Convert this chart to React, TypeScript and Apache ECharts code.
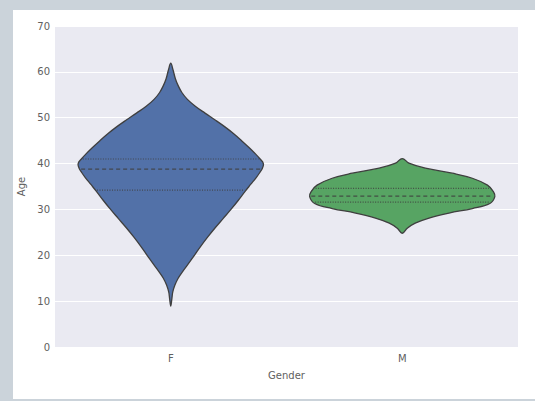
import React, { useEffect, useRef } from "react";
import * as echarts from "echarts";

const categories = ["F", "M"];
const yMin = 0;
const yMax = 70;
const yStep = 10;

// Violin outlines: age (top to bottom) and relative half-width (0..1)
const femaleAges = [61.9, 60.4, 58.5, 57.0, 55.5, 54.0, 52.5, 51.0, 49.5, 48.0, 46.5, 45.0, 43.5, 42.0, 41.0, 40.0, 39.0, 38.0, 37.0, 35.5, 34.0, 32.0, 30.0, 28.0, 26.0, 24.0, 22.0, 20.0, 18.0, 16.5, 15.0, 13.5, 12.0, 10.5, 8.9];
const femaleWidths = [0, 0.025, 0.05, 0.08, 0.12, 0.18, 0.265, 0.37, 0.48, 0.585, 0.68, 0.765, 0.845, 0.92, 0.965, 1.0, 0.99, 0.96, 0.925, 0.865, 0.805, 0.73, 0.65, 0.565, 0.48, 0.4, 0.325, 0.255, 0.185, 0.13, 0.08, 0.045, 0.022, 0.012, 0];
const maleAges = [41.1, 40.1, 39.0, 37.9, 36.8, 35.3, 33.9, 32.8, 31.3, 30.2, 29.2, 28.1, 27.0, 25.9, 24.8];
const maleWidths = [0, 0.072, 0.25, 0.54, 0.757, 0.92, 0.984, 1.0, 0.946, 0.757, 0.505, 0.289, 0.14, 0.054, 0];

// [Q1, median, Q3]
const femaleQuartiles = [34.2, 38.8, 41.0];
const maleQuartiles = [31.6, 32.9, 34.6];

const violinColors = ["#5271a8", "#57a463"];

function halfWidthAt(ages: number[], widths: number[], v: number): number {
  for (let k = 0; k < ages.length - 1; k++) {
    const a0 = ages[k];
    const a1 = ages[k + 1];
    if (v <= a0 && v >= a1) {
      const t = (a0 - v) / (a0 - a1);
      return widths[k] + t * (widths[k + 1] - widths[k]);
    }
  }
  return 0;
}

export default function App() {
  const ref = useRef<HTMLDivElement>(null);

  useEffect(() => {
    if (!ref.current) return;
    const chart = echarts.init(ref.current, null, { renderer: "svg" });
    const profiles = [
      { ages: femaleAges, widths: femaleWidths, q: femaleQuartiles },
      { ages: maleAges, widths: maleWidths, q: maleQuartiles },
    ];
    const textColor = "#606060";
    const font = "DejaVu Sans";

    chart.setOption({
      animation: false,
      grid: {
        left: 55,
        right: 17,
        top: 26,
        bottom: 54,
        show: true,
        backgroundColor: "#eaeaf2",
        borderWidth: 0,
      },
      xAxis: {
        type: "category",
        data: categories,
        axisLine: { show: false },
        axisTick: { show: false },
        axisLabel: { color: textColor, fontSize: 10, fontFamily: font, margin: 6 },
        splitLine: { show: false },
        name: "Gender",
        nameLocation: "middle",
        nameGap: 23,
        nameTextStyle: { color: textColor, fontSize: 10, fontFamily: font },
      },
      yAxis: {
        type: "value",
        min: yMin,
        max: yMax,
        interval: yStep,
        axisLine: { show: false },
        axisTick: { show: false },
        axisLabel: { color: textColor, fontSize: 10, fontFamily: font, margin: 5 },
        splitLine: { show: true, lineStyle: { color: "#ffffff", width: 1 } },
        name: "Age",
        nameLocation: "middle",
        nameGap: 25,
        nameTextStyle: { color: textColor, fontSize: 10, fontFamily: font },
      },
      series: [
        {
          type: "custom",
          data: categories.map((_, i) => [i, profiles[i].q[1]]),
          renderItem: (params: any, api: any) => {
            const i = params.dataIndex;
            const p = profiles[i];
            const band = api.size([1, 0])[0];
            const maxHalf = band * 0.4;
            const cx = api.coord([i, 0])[0];
            const pts: number[][] = [];
            for (let k = 0; k < p.ages.length; k++) {
              const y = api.coord([i, p.ages[k]])[1];
              pts.push([cx + p.widths[k] * maxHalf, y]);
            }
            for (let k = p.ages.length - 2; k >= 1; k--) {
              const y = api.coord([i, p.ages[k]])[1];
              pts.push([cx - p.widths[k] * maxHalf, y]);
            }
            const children: any[] = [
              {
                type: "polygon",
                shape: { points: pts, smooth: 0.4 },
                style: { fill: violinColors[i], stroke: "#3f3f3f", lineWidth: 1.3 },
              },
            ];
            p.q.forEach((qv: number, j: number) => {
              const hw = halfWidthAt(p.ages, p.widths, qv) * maxHalf - 1.5;
              const y = api.coord([i, qv])[1];
              children.push({
                type: "line",
                shape: { x1: cx - hw, y1: y, x2: cx + hw, y2: y },
                style: {
                  stroke: "#3f3f3f",
                  lineWidth: j === 1 ? 1.3 : 1.1,
                  lineDash: j === 1 ? [4, 3] : [1, 1.5],
                  opacity: 0.85,
                },
              });
            });
            return { type: "group", children };
          },
        },
      ],
    });
    return () => chart.dispose();
  }, []);

  return (
    <div style={{ position: "fixed", left: 0, top: 0, width: 535, height: 401, background: "#cbd3da" }}>
      <div style={{ position: "absolute", left: 13, top: 10, width: 522, height: 389, background: "#ffffff" }} />
      <div ref={ref} style={{ position: "absolute", left: 0, top: 0, width: 535, height: 401 }} />
    </div>
  );
}
